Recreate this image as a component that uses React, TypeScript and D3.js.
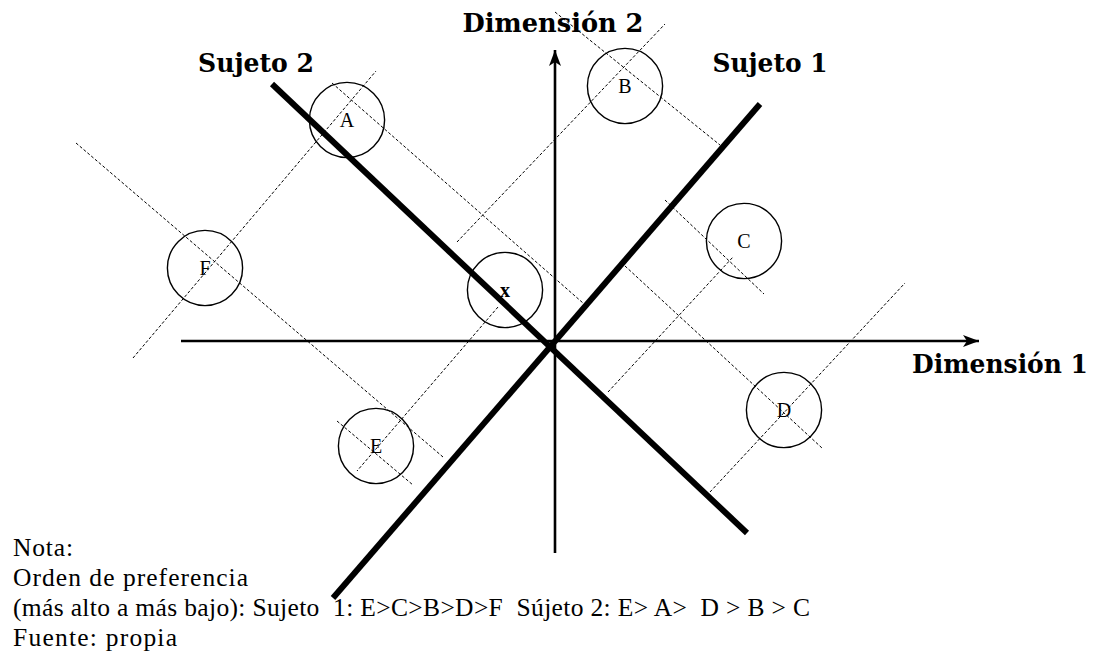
import React, { useEffect, useRef } from 'react';
import * as d3 from 'd3';

const WIDTH = 1101;
const HEIGHT = 654;

// stimuli and the ideal point, in plot units (origin where the two dimensions cross)
const pointLabels = ['A', 'B', 'C', 'D', 'E', 'F', 'x'];
const pointX = [-5.2, 1.75, 4.725, 5.725, -4.475, -8.75, -1.25];
const pointY = [5.525, 6.375, 2.5, -1.725, -2.625, 1.825, 1.275];

// subject vectors: [x1, y1, x2, y2]
const subjectNames = ['Sujeto 1', 'Sujeto 2'];
const subjectLines = [
  [-5.55, -6.425, 5.125, 5.925],
  [-7.075, 6.425, 4.8, -4.8],
];

// dashed projections of the stimuli onto the subject vectors
const projections = [
  [-10.55, -0.425, -4.475, 6.75],
  [-11.975, 4.95, -2.8, -2.9],
  [-5.575, 6.45, 0.7, 0.95],
  [-2.45, 2.475, 2.75, 7.925],
  [0, 8.225, 4.125, 4.9],
  [2.75, 3.525, 5.225, 1.175],
  [1.75, 1.875, 6.675, -2.675],
  [1.325, -1.275, 4.45, 2.1],
  [3.875, -3.775, 8.75, 1.45],
  [-1.425, 0.85, -4.95, -3.25],
  [-5.45, -2.0, -3.55, -3.6],
];

// axis extents
const dim1Extent = [-9.35, 10.6];
const dim2Extent = [-5.3, 7.275];
const dimNames = ['Dimensión 1', 'Dimensión 2'];

const noteLines = [
  'Nota:',
  'Orden de preferencia',
  '(más alto a más bajo): Sujeto  1: E>C>B>D>F  Sújeto 2: E> A>  D > B > C',
  'Fuente: propia',
];
const noteWidths = [60, 235, 797, 164];

const SERIF = "'Liberation Serif', 'DejaVu Serif', serif";
const BOLD_SERIF = "'DejaVu Serif', 'Liberation Serif', serif";

const App = () => {
  const ref = useRef<SVGSVGElement | null>(null);

  useEffect(() => {
    if (!ref.current) return;
    const svg = d3.select(ref.current);
    svg.selectAll('*').remove();

    const x = d3.scaleLinear().domain([-10, 10]).range([155, 955]);
    const y = d3.scaleLinear().domain([-10, 10]).range([741, -59]);
    const r = x(0.94) - x(0);

    svg.append('rect').attr('width', WIDTH).attr('height', HEIGHT).attr('fill', '#fff');

    svg.append('defs').append('marker')
      .attr('id', 'arrow')
      .attr('viewBox', '0 0 16 12')
      .attr('refX', 16)
      .attr('refY', 6)
      .attr('markerWidth', 16)
      .attr('markerHeight', 12)
      .attr('markerUnits', 'userSpaceOnUse')
      .attr('orient', 'auto')
      .append('path')
      .attr('d', 'M0,0 L16,6 L0,12 L4,6 Z')
      .attr('fill', '#000');

    // dashed projection lines
    svg.append('g')
      .selectAll('line')
      .data(projections)
      .join('line')
      .attr('x1', d => x(d[0]))
      .attr('y1', d => y(d[1]))
      .attr('x2', d => x(d[2]))
      .attr('y2', d => y(d[3]))
      .attr('stroke', '#000')
      .attr('stroke-width', 1)
      .attr('stroke-dasharray', '3,2');

    // dimensions
    svg.append('line')
      .attr('x1', x(dim1Extent[0])).attr('y1', y(0))
      .attr('x2', x(dim1Extent[1])).attr('y2', y(0))
      .attr('stroke', '#000').attr('stroke-width', 2.6)
      .attr('marker-end', 'url(#arrow)');
    svg.append('line')
      .attr('x1', x(0)).attr('y1', y(dim2Extent[0]))
      .attr('x2', x(0)).attr('y2', y(dim2Extent[1]))
      .attr('stroke', '#000').attr('stroke-width', 2.6)
      .attr('marker-end', 'url(#arrow)');

    // subject vectors
    svg.append('g')
      .selectAll('line')
      .data(subjectLines)
      .join('line')
      .attr('x1', d => x(d[0]))
      .attr('y1', d => y(d[1]))
      .attr('x2', d => x(d[2]))
      .attr('y2', d => y(d[3]))
      .attr('stroke', '#000')
      .attr('stroke-width', 6);

    // stimulus circles
    const pts = pointLabels.map((label, i) => ({ label, px: pointX[i], py: pointY[i] }));
    const g = svg.append('g');
    g.selectAll('circle')
      .data(pts)
      .join('circle')
      .attr('cx', d => x(d.px))
      .attr('cy', d => y(d.py))
      .attr('r', r)
      .attr('fill', 'none')
      .attr('stroke', '#000')
      .attr('stroke-width', 1.4);
    g.selectAll('text')
      .data(pts)
      .join('text')
      .attr('x', d => x(d.px))
      .attr('y', d => y(d.py) + 7)
      .attr('text-anchor', 'middle')
      .attr('font-family', SERIF)
      .attr('font-size', 20)
      .attr('font-weight', d => (d.label === 'x' ? 'bold' : 'normal'))
      .text(d => d.label);

    // bold labels
    const bold = (tx: number, ty: number, anchor: string, label: string, w: number) =>
      svg.append('text')
        .attr('x', tx).attr('y', ty)
        .attr('text-anchor', anchor)
        .attr('font-family', BOLD_SERIF)
        .attr('font-weight', 'bold')
        .attr('font-size', 26)
        .attr('textLength', w)
        .attr('lengthAdjust', 'spacingAndGlyphs')
        .text(label);

    bold(x(dim1Extent[1]) - 67, y(0) + 32, 'start', dimNames[0], 176);
    bold(x(0) - 2, 32, 'middle', dimNames[1], 181);
    bold(x(subjectLines[0][2]) + 10, 72, 'middle', subjectNames[0], 115);
    bold(x(subjectLines[1][0]) - 16, 72, 'middle', subjectNames[1], 116);

    // note below the chart
    svg.append('g')
      .selectAll('text')
      .data(noteLines)
      .join('text')
      .attr('x', 13)
      .attr('y', (d, i) => 556 + i * 30)
      .attr('font-family', SERIF)
      .attr('font-size', 25.5)
      .attr('textLength', (d, i) => noteWidths[i])
      .attr('lengthAdjust', 'spacing')
      .style('white-space', 'pre')
      .text(d => d);
  }, []);

  return (
    <svg
      ref={ref}
      width={WIDTH}
      height={HEIGHT}
      style={{ position: 'absolute', left: 0, top: 0, display: 'block' }}
    />
  );
};

export default App;
